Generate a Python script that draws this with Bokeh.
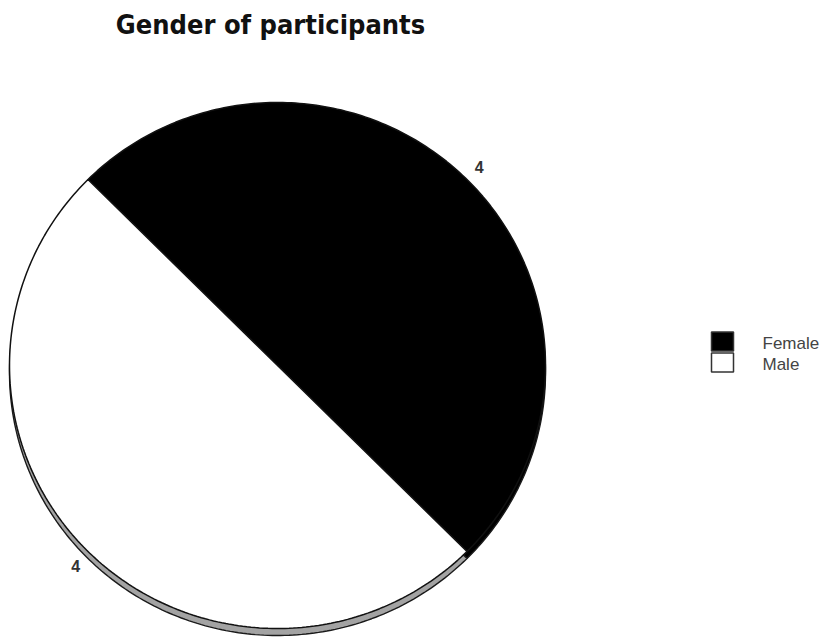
import numpy as np
from bokeh.plotting import figure
from bokeh.models import Range1d
from bokeh.core.properties import value
from bokeh.embed import file_html
from bokeh.resources import INLINE

# ---- data ----
title_text = "Gender of participants"
categories = ["Female", "Male"]
counts = [4, 4]
colors = ["#000000", "#ffffff"]
side_colors = ["#000000", "#a3a3a3"]

# ---- layout (pixels) ----
W, H = 830, 643
cx, cy = 277, 365
rx, ry = 268, 263
depth = 7
start_deg = -45.0

p = figure(width=W, height=H, output_backend="svg", toolbar_location=None,
           x_range=Range1d(0, W), y_range=Range1d(H, 0), min_border=0)
p.axis.visible = False
p.grid.visible = False
p.outline_line_color = None
p.background_fill_color = "white"
p.border_fill_color = "white"

total = float(sum(counts))
angles = [start_deg]
for c in counts:
    angles.append(angles[-1] + 360.0 * c / total)

def wedge_poly(a0, a1, dy=0.0, n=200):
    t = np.radians(np.linspace(a0, a1, n))
    xs = np.concatenate([[cx], cx + rx * np.cos(t), [cx]])
    ys = np.concatenate([[cy + dy], cy + dy - ry * np.sin(t), [cy + dy]])
    return list(xs), list(ys)

# side (depth) of the pie
sx, sy = [], []
for i in range(len(counts)):
    xs, ys = wedge_poly(angles[i], angles[i + 1], dy=depth)
    sx.append(xs); sy.append(ys)
p.patches(sx, sy, fill_color=side_colors, line_color="#1a1a1a", line_width=1.4)

# top faces
tx, ty = [], []
for i in range(len(counts)):
    xs, ys = wedge_poly(angles[i], angles[i + 1])
    tx.append(xs); ty.append(ys)
p.patches(tx, ty, fill_color=colors, line_color="#111111", line_width=1.5)

# value labels
lx, ly, lt = [], [], []
for i, c in enumerate(counts):
    mid = np.radians((angles[i] + angles[i + 1]) / 2.0)
    lx.append(cx + 1.065 * rx * np.cos(mid))
    ly.append(cy - 1.075 * ry * np.sin(mid) + 1)
    lt.append(str(c))
p.text(lx, ly, text=lt, text_font=value("Liberation Sans"), text_font_size="16px",
       text_font_style="bold", text_align="center", text_baseline="middle",
       text_color="#333333")

# title
p.text([270], [24], text=[title_text],
       text_font=value("'DejaVu Sans Condensed', 'Roboto', sans-serif"),
       text_font_style="bold", text_font_size="27px", text_align="center",
       text_baseline="middle", text_color="#111111")

# legend
leg_x, leg_y0, leg_dy = 722, 341, 21
ys_leg = [leg_y0 + i * leg_dy for i in range(len(categories))]
p.rect([leg_x] * len(categories), ys_leg, width=22, height=19,
       fill_color=colors, line_color="#333333", line_width=1.5)
p.text([762] * len(categories), [y + 2 for y in ys_leg], text=categories,
       text_font=value("Liberation Sans"), text_font_size="17px",
       text_align="left", text_baseline="middle", text_color="#444444")

open("out.html", "w").write(file_html(p, INLINE))
